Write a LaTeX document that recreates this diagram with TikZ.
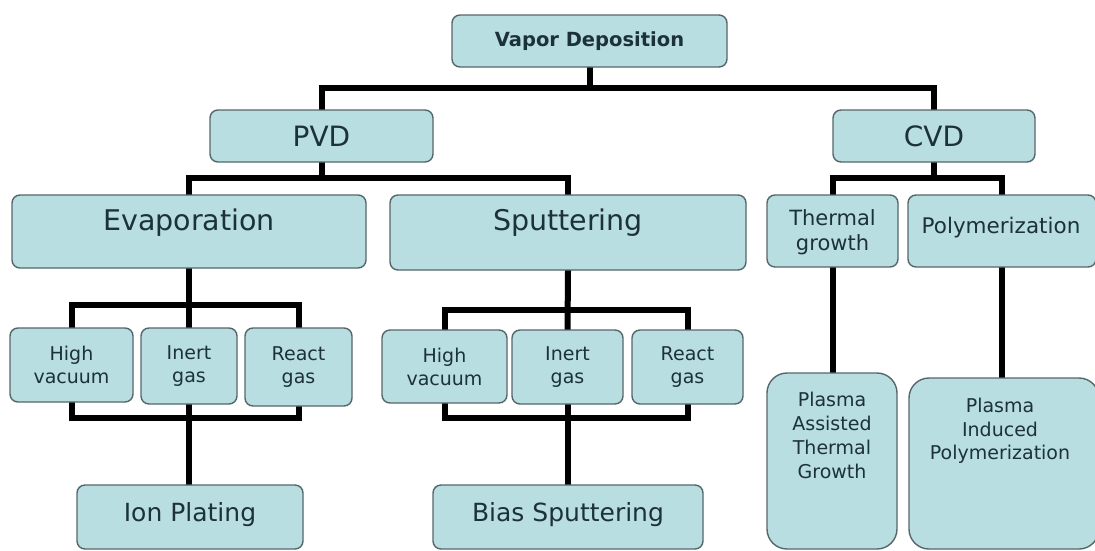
\documentclass[tikz,border=0pt]{standalone}
\usepackage{fontspec}
\setmainfont{DejaVu Sans}
\definecolor{boxfill}{HTML}{B8DEE2}
\definecolor{boxline}{HTML}{56676A}
\definecolor{txt}{HTML}{1C313A}
\pgfdeclarelayer{paper}
\pgfdeclarelayer{wires}
\pgfsetlayers{paper,wires,main}
\tikzset{
  box/.style={draw=boxline, line width=1.4pt, fill=boxfill, rounded corners=8pt, text=txt, align=center, inner sep=0pt},
  bigbox/.style={box, rounded corners=20pt},
  lbl/.style={text=txt, align=center, inner sep=0pt},
  conn/.style={draw=black, line width=6pt, line join=miter, line cap=rect},
}
\newcommand{\fs}[2]{\fontsize{#1}{#2}\selectfont}
\begin{document}
\begin{tikzpicture}[x=1pt,y=-1pt]
\begin{pgfonlayer}{paper}
\fill[white] (0,0) rectangle (1095,550);
\end{pgfonlayer}
\clip (0,0) rectangle (1095,550);
% bus coordinates
\coordinate (b0) at (0,88);
\coordinate (b1) at (0,178);
\coordinate (b2) at (0,305);
\coordinate (b3) at (0,418);
\coordinate (b4) at (0,310);

\node[box, minimum width=275pt, minimum height=52pt, font=\fs{19.5}{22}\bfseries] (vd) at (589.5,41) {Vapor Deposition};
\node[box, minimum width=223pt, minimum height=52pt, font=\fs{28}{32}] (pvd) at (321.5,136) {PVD};
\node[box, minimum width=202pt, minimum height=52pt, font=\fs{28}{32}] (cvd) at (934,136) {CVD};
\node[box, minimum width=354pt, minimum height=73pt] (ev) at (189,231.5) {};
\node[lbl, font=\fs{28.5}{32}] (evt) at (189,223) {Evaporation};
\node[box, minimum width=356pt, minimum height=75pt] (sp) at (568,232.5) {};
\node[lbl, font=\fs{28.5}{32}] (spt) at (568,223) {Sputtering};
\node[box, minimum width=131pt, minimum height=72pt] (th) at (832.5,231) {};
\node[lbl, font=\fs{21}{25}] (tht) at (832.5,232) {Thermal\\growth};
\node[box, minimum width=188pt, minimum height=72pt] (po) at (1002,231) {};
\node[lbl, font=\fs{21.5}{24}] (pot) at (1001,228) {Polymerization};

\node[box, minimum width=123pt, minimum height=74pt, font=\fs{19}{23}] (hv1) at (71.5,365) {High\\vacuum};
\node[box, minimum width=96pt, minimum height=76pt, font=\fs{19}{23}] (ig1) at (189,366) {Inert\\gas};
\node[box, minimum width=107pt, minimum height=78pt, font=\fs{19}{23}] (rg1) at (298.5,367) {React\\gas};
\node[box, minimum width=125pt, minimum height=73pt, font=\fs{19}{23}] (hv2) at (444.5,366.5) {High\\vacuum};
\node[box, minimum width=111pt, minimum height=74pt, font=\fs{19}{23}] (ig2) at (567.5,367) {Inert\\gas};
\node[box, minimum width=111pt, minimum height=74pt, font=\fs{19}{23}] (rg2) at (687.5,367) {React\\gas};

\node[box, minimum width=226pt, minimum height=64pt] (ip) at (190,517) {};
\node[lbl, font=\fs{25}{28}] (ipt) at (190,515) {Ion Plating};
\node[box, minimum width=270pt, minimum height=64pt] (bs) at (568,517) {};
\node[lbl, font=\fs{25}{28}] (bst) at (568,515) {Bias Sputtering};

\node[bigbox, minimum width=130pt, minimum height=176pt] (pa) at (832,461) {};
\node[lbl, font=\fs{19}{24}, anchor=north] (pat) at (832,392) {Plasma\\Assisted\\Thermal\\Growth};
\node[bigbox, minimum width=190pt, minimum height=171pt] (pi) at (1004,463.5) {};
\node[lbl, font=\fs{19}{23.5}, anchor=north] (pit) at (1000,398) {Plasma\\Induced\\Polymerization};

% connectors, drawn beneath the boxes
\begin{pgfonlayer}{wires}
\draw[conn] (vd.south) -- (vd.south |- b0);
\draw[conn] (pvd.north) -- (pvd.north |- b0) -- (cvd.north |- b0) -- (cvd.north);
\draw[conn] (pvd.south) -- (pvd.south |- b1);
\draw[conn] (ev.north -| evt) -- (evt |- b1) -- (sp.north |- b1) -- (sp.north);
\draw[conn] (cvd.south) -- (cvd.south |- b1);
\draw[conn] (th.north) -- (th.north |- b1) -- (po.north |- b1) -- (po.north);
% Evaporation subtree
\draw[conn] (ev.south -| ig1) -- (ig1.north);
\draw[conn] (hv1.north) -- (hv1.north |- b2) -- (rg1.north |- b2) -- (rg1.north);
\draw[conn] (hv1.south) -- (hv1.south |- b3) -- (rg1.south |- b3) -- (rg1.south);
\draw[conn] (ig1.south) -- (ip.north -| ig1);
% Sputtering subtree
\draw[conn] (sp.south) -- (ig2.north);
\draw[conn] (hv2.north) -- (hv2.north |- b4) -- (rg2.north |- b4) -- (rg2.north);
\draw[conn] (hv2.south) -- (hv2.south |- b3) -- (rg2.south |- b3) -- (rg2.south);
\draw[conn] (ig2.south) -- (bs.north -| ig2);
% CVD subtree
\draw[conn] (th.south) -- (pa.north -| th);
\draw[conn] (po.south) -- (pi.north -| po);
\end{pgfonlayer}
\end{tikzpicture}
\end{document}
